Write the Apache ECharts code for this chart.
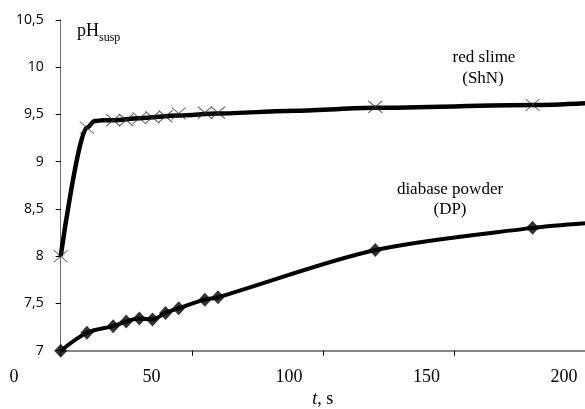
<!DOCTYPE html>
<html><head><meta charset="utf-8">
<script src="https://cdn.jsdelivr.net/npm/echarts@6/dist/echarts.min.js"></script>
<style>html,body{margin:0;padding:0;background:#fff}#c{width:585px;height:409px}</style>
</head><body><div id="c"></div>
<script>
// tick labels
const yTickLabels = {'7':'7','7.5':'7,5','8':'8','8.5':'8,5','9':'9','9.5':'9,5','10':'10','10.5':'10,5'};
const xTickLabels = ['0','50','100','150','200'];

// red slime (ShN) measured points
const slimeT  = [0, 10, 20, 25, 30, 35, 40, 45, 55, 60, 120, 180];
const slimePH = [8.0, 9.36, 9.44, 9.44, 9.46, 9.47, 9.48, 9.51, 9.52, 9.52, 9.58, 9.60];
// red slime trend curve
const slimeCurveT  = [0, 10, 13, 16, 20, 30, 45, 60, 90, 120, 180, 200];
const slimeCurvePH = [8.0, 9.36, 9.43, 9.44, 9.44, 9.46, 9.49, 9.51, 9.54, 9.57, 9.60, 9.62];

// diabase powder (DP) measured points
const dpT  = [0, 10, 20, 25, 30, 35, 40, 45, 55, 60, 120, 180];
const dpPH = [7.0, 7.19, 7.26, 7.31, 7.34, 7.33, 7.40, 7.45, 7.54, 7.565, 8.065, 8.30];
// DP trend curve (incl. the value at the right edge)
const dpCurveT  = [0, 10, 20, 25, 30, 35, 40, 45, 55, 60, 120, 180, 200];
const dpCurvePH = [7.0, 7.19, 7.26, 7.31, 7.34, 7.33, 7.40, 7.45, 7.54, 7.565, 8.065, 8.30, 8.35];

const zip = (a, b) => a.map((v, i) => [v, b[i]]);
const serif = 'Liberation Serif';

const chart = echarts.init(document.getElementById('c'), null, {renderer: 'canvas'});
chart.setOption({
  animation: false,
  backgroundColor: '#fff',
  grid: [
    {left: 60.7, top: 20, right: 0, bottom: 58.3, containLabel: false, outerBoundsMode: 'none'},
    {left: 14, top: 20, right: 21, bottom: 58.3, containLabel: false, outerBoundsMode: 'none'}
  ],
  xAxis: [
    {
      gridIndex: 0, type: 'value', min: 0, max: 200, interval: 50,
      axisLine: {show: true, lineStyle: {color: '#868686', width: 2}},
      axisTick: {show: true, length: 5, lineStyle: {color: '#000', width: 1}},
      axisLabel: {show: false},
      splitLine: {show: false},
      name: '{i|t}{n|, s}', nameLocation: 'middle', nameGap: 40,
      nameTextStyle: {rich: {
        i: {fontFamily: serif, fontSize: 18, fontStyle: 'italic', color: '#000'},
        n: {fontFamily: serif, fontSize: 18, color: '#000'}
      }}
    },
    {
      gridIndex: 1, type: 'value', min: 0, max: 200, interval: 50,
      axisLine: {show: false}, axisTick: {show: false}, splitLine: {show: false},
      axisLabel: {
        margin: 18, fontFamily: serif, fontSize: 18, color: '#000',
        formatter: v => xTickLabels[Math.round(v / 50)]
      }
    }
  ],
  yAxis: [
    {
      gridIndex: 0, type: 'value', min: 7, max: 10.5, interval: 0.5,
      axisLine: {show: true, lineStyle: {color: '#6e6e6e', width: 1}},
      axisTick: {show: true, length: 5, lineStyle: {color: '#000', width: 1}},
      splitLine: {show: false},
      axisLabel: {
        margin: 17, fontFamily: 'Open Sans', fontSize: 14, color: '#000',
        formatter: v => yTickLabels[String(v)] || String(v)
      }
    },
    {gridIndex: 1, type: 'value', min: 0, max: 1, show: false}
  ],
  series: [
    {
      type: 'line', xAxisIndex: 0, yAxisIndex: 0, data: zip(slimeCurveT, slimeCurvePH),
      showSymbol: false, smooth: 0.3, smoothMonotone: 'x',
      lineStyle: {color: '#000', width: 4.5}, z: 2
    },
    {
      type: 'line', xAxisIndex: 0, yAxisIndex: 0, data: zip(dpCurveT, dpCurvePH),
      showSymbol: false, smooth: 0.3,
      lineStyle: {color: '#000', width: 4}, z: 2
    },
    {
      type: 'scatter', xAxisIndex: 0, yAxisIndex: 0, data: zip(slimeT, slimePH),
      symbol: 'path://M0,0L10,10M10,0L0,10', symbolSize: [14, 12],
      itemStyle: {color: 'rgba(0,0,0,0)', borderColor: '#333', borderWidth: 1}, z: 3
    },
    {
      type: 'scatter', xAxisIndex: 0, yAxisIndex: 0, data: zip(dpT, dpPH),
      symbol: 'diamond', symbolSize: [13, 14],
      itemStyle: {color: '#000'}, z: 3
    }
  ],
  graphic: [
    {type: 'text', left: 77, top: 22, style: {
      text: '{a|pH}{b|susp}',
      rich: {
        a: {fontFamily: serif, fontSize: 18, color: '#000', verticalAlign: 'bottom'},
        b: {fontFamily: serif, fontSize: 12, color: '#000', verticalAlign: 'bottom', padding: [0,0,-4,0]}
      }
    }},
    {type: 'text', x: 484, y: 58, style: {
      text: 'red slime', fontFamily: serif, fontSize: 17, fill: '#000', align: 'center', verticalAlign: 'middle'}},
    {type: 'text', x: 483, y: 79, style: {
      text: '(ShN)', fontFamily: serif, fontSize: 17, fill: '#000', align: 'center', verticalAlign: 'middle'}},
    {type: 'text', x: 450, y: 190, style: {
      text: 'diabase powder', fontFamily: serif, fontSize: 17, fill: '#000', align: 'center', verticalAlign: 'middle'}},
    {type: 'text', x: 450, y: 210, style: {
      text: '(DP)', fontFamily: serif, fontSize: 17, fill: '#000', align: 'center', verticalAlign: 'middle'}}
  ]
});
</script>
</body></html>
